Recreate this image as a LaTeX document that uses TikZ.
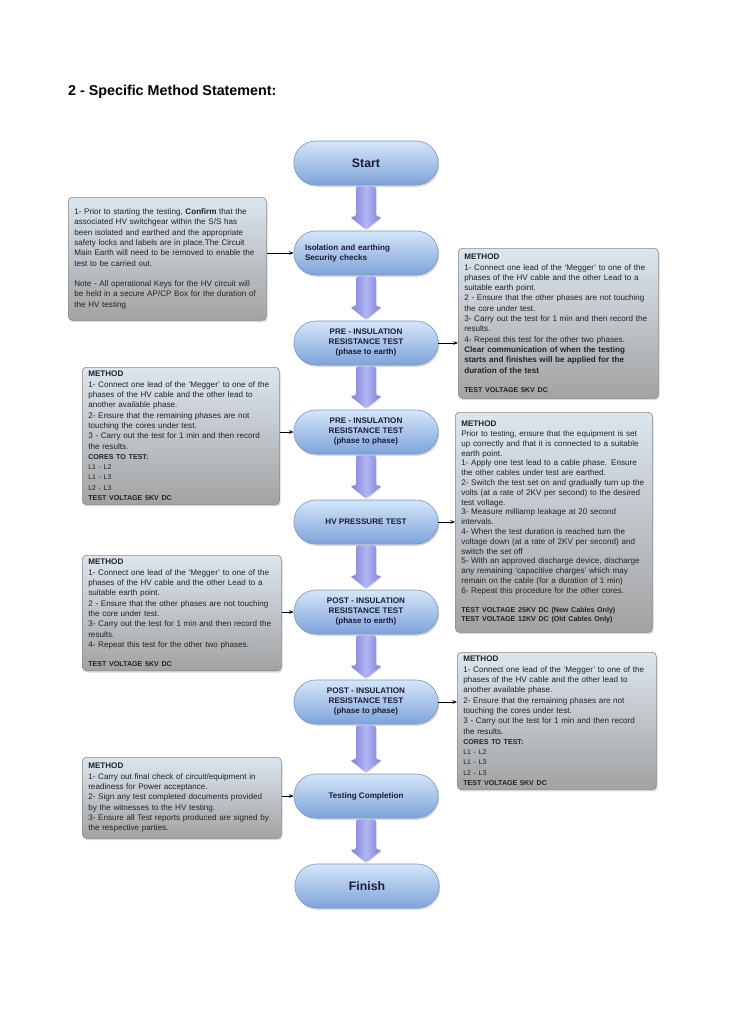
\documentclass[tikz,border=0pt]{standalone}
\usepackage{fontspec}
\setmainfont{Liberation Sans}
\usetikzlibrary{shapes.misc,shadows,calc,arrows.meta}
\definecolor{flowtop}{HTML}{D4E6FA}
\definecolor{flowbot}{HTML}{7EA3DA}
\definecolor{flowline}{HTML}{7896C0}
\definecolor{notetop}{HTML}{DCE6EF}
\definecolor{notebot}{HTML}{A2A2A2}
\definecolor{noteline}{HTML}{8A8A8A}
\definecolor{arrside}{HTML}{7A7ED6}
\definecolor{arrmid}{HTML}{B2B5F2}
\definecolor{flowtext}{HTML}{1C1C34}
\definecolor{notetext}{HTML}{222222}
\newcommand{\tvline}[1]{{\fontsize{7.1}{10}\selectfont\bfseries #1}}
\newcommand{\lline}[1]{{\fontsize{6.9}{10}\selectfont #1}}
\newcommand{\fatarrow}[2]{%
  \path let \p1=(#1.south), \p2=(#2.north) in
    [fatarr] (\x1-10,\y1-1) -- (\x1-10,\y2+14) -- (\x1-16,\y2+14) -- (\x1,\y2+1)
    -- (\x1+16,\y2+14) -- (\x1+10,\y2+14) -- (\x1+10,\y1-1) -- cycle;}
\begin{document}
\begin{tikzpicture}[x=1pt,y=1pt,
  flow/.style={shape=rounded rectangle, minimum width=151pt, minimum height=44pt,
    top color=flowtop, bottom color=flowbot, draw=flowline, line width=0.6pt,
    drop shadow={shadow xshift=1.2pt, shadow yshift=-1.8pt, opacity=0.3},
    font=\fontsize{8.1}{10}\selectfont\bfseries, text=flowtext, align=center},
  note/.style={shape=rectangle, rounded corners=4pt, anchor=north west,
    top color=notetop, bottom color=notebot, draw=noteline, line width=0.6pt,
    drop shadow={shadow xshift=1.2pt, shadow yshift=-1.8pt, opacity=0.3},
    inner xsep=6pt, inner ysep=4pt,
    font=\fontsize{8.1}{10.3}\selectfont, text=notetext, align=left},
  fatarr/.style={rounded corners=2.5pt, left color=arrside, right color=arrside, middle color=arrmid,
    drop shadow={shadow xshift=0.8pt, shadow yshift=-1pt, opacity=0.2}},
  link/.style={-{Stealth[length=4.5pt,width=3.5pt]}, line width=0.6pt, black}]
\useasboundingbox (0,0) rectangle (728,-1030);
\fill[white] (0,0) rectangle (728,-1030);

\node[anchor=west, inner sep=0pt, font=\fontsize{14.3}{16}\selectfont\bfseries, text=black] (title) at (68,-92) {2 - Specific Method Statement:};

% flow nodes
\node[flow, font=\fontsize{12.3}{14}\selectfont\bfseries] (start) at (366,-163) {Start};
\node[flow, text width=122pt, align=left] (iso) at (366,-253) {Isolation and earthing\\Security checks};
\node[flow] (pre1) at (366,-343) {PRE - INSULATION\\RESISTANCE TEST\\(phase to earth)};
\node[flow] (pre2) at (366,-432) {PRE - INSULATION\\RESISTANCE TEST\\(phase to phase)};
\node[flow] (hv) at (366,-522) {HV PRESSURE TEST};
\node[flow] (post1) at (366,-612) {POST - INSULATION\\RESISTANCE TEST\\(phase to earth)};
\node[flow] (post2) at (366,-702) {POST - INSULATION\\RESISTANCE TEST\\(phase to phase)};
\node[flow] (comp) at (366,-796) {Testing Completion};
\node[flow, font=\fontsize{12.3}{14}\selectfont\bfseries] (fin) at (367,-886) {Finish};

\fatarrow{start}{iso}
\fatarrow{iso}{pre1}
\fatarrow{pre1}{pre2}
\fatarrow{pre2}{hv}
\fatarrow{hv}{post1}
\fatarrow{post1}{post2}
\fatarrow{post2}{comp}
\fatarrow{comp}{fin}

% left notes
\node[note, minimum width=197pt, minimum height=123pt, text width=186pt] (l1) at (68,-197) {%
1- Prior to starting the testing, \textbf{Confirm} that the\\
associated HV switchgear within the S/S has\\
been isolated and earthed and the appropriate\\
safety locks and labels are in place.The Circuit\\
Main Earth will need to be removed to enable the\\
test to be carried out.\\[10pt]
Note - All operational Keys for the HV circuit will\\
be held in a secure AP/CP Box for the duration of\\
the HV testing};

\node[note, minimum width=196pt, minimum height=130pt, text width=185pt] (l2) at (82,-367) {%
\textbf{METHOD}\\
1- Connect one lead of the `Megger' to one of the\\
phases of the HV cable and the other lead to\\
another available phase.\\
2- Ensure that the remaining phases are not\\
touching the cores under test.\\
3 - Carry out the test for 1 min and then record\\
the results.\\
\tvline{CORES TO TEST:}\\
\lline{L1 - L2}\\
\lline{L1 - L3}\\
\lline{L2 - L3}\\
\tvline{TEST VOLTAGE 5KV DC}};

\node[note, minimum width=198pt, minimum height=112pt, text width=187pt] (l3) at (82,-555) {%
\textbf{METHOD}\\
1- Connect one lead of the `Megger' to one of the\\
phases of the HV cable and the other Lead to a\\
suitable earth point.\\
2 - Ensure that the other phases are not touching\\
the core under test.\\
3- Carry out the test for 1 min and then record the\\
results.\\
4- Repeat this test for the other two phases.\\[9pt]
\tvline{TEST VOLTAGE 5KV DC}};

\node[note, minimum width=198pt, minimum height=81pt, text width=187pt] (l4) at (82,-757) {%
\textbf{METHOD}\\
1- Carry out final check of circuit/equipment in\\
readiness for Power acceptance.\\
2- Sign any test completed documents provided\\
by the witnesses to the HV testing.\\
3- Ensure all Test reports produced are signed by\\
the respective parties.};

% right notes
\node[note, minimum width=199pt, minimum height=150pt, text width=188pt] (r1) at (458,-248) {%
\textbf{METHOD}\\
1- Connect one lead of the `Megger' to one of the\\
phases of the HV cable and the other Lead to a\\
suitable earth point.\\
2 - Ensure that the other phases are not touching\\
the core under test.\\
3- Carry out the test for 1 min and then record the\\
results.\\
4- Repeat this test for the other two phases.\\
\textbf{Clear communication of when the testing}\\
\textbf{starts and finishes will be applied for the}\\
\textbf{duration of the test}\\[9pt]
\tvline{TEST VOLTAGE 5KV DC}};

\node[note, minimum width=196pt, minimum height=220pt, text width=185pt, font=\fontsize{8.1}{9.8}\selectfont] (r2) at (455,-412) {%
\textbf{METHOD}\\
Prior to testing, ensure that the equipment is set\\
up correctly and that it is connected to a suitable\\
earth point.\\
1- Apply one test lead to a cable phase. Ensure\\
the other cables under test are earthed.\\
2- Switch the test set on and gradually turn up the\\
volts (at a rate of 2KV per second) to the desired\\
test voltage.\\
3- Measure milliamp leakage at 20 second\\
intervals.\\
4- When the test duration is reached turn the\\
voltage down (at a rate of 2KV per second) and\\
switch the set off\\
5- With an approved discharge device, discharge\\
any remaining `capacitive charges' which may\\
remain on the cable (for a duration of 1 min)\\
6- Repeat this procedure for the other cores.\\[9pt]
\tvline{TEST VOLTAGE 25KV DC (New Cables Only)}\\
\tvline{TEST VOLTAGE 12KV DC (Old Cables Only)}};

\node[note, minimum width=198pt, minimum height=128pt, text width=187pt] (r3) at (457,-652) {%
\textbf{METHOD}\\
1- Connect one lead of the `Megger' to one of the\\
phases of the HV cable and the other lead to\\
another available phase.\\
2- Ensure that the remaining phases are not\\
touching the cores under test.\\
3 - Carry out the test for 1 min and then record\\
the results.\\
\tvline{CORES TO TEST:}\\
\lline{L1 - L2}\\
\lline{L1 - L3}\\
\lline{L2 - L3}\\
\tvline{TEST VOLTAGE 5KV DC}};

% connectors
\draw[link] (iso.west -| l1.east) -- (iso.west);
\draw[link] (pre1.east) -- (pre1.east -| r1.west);
\draw[link] (pre2.west -| l2.east) -- (pre2.west);
\draw[link] (hv.east) -- (hv.east -| r2.west);
\draw[link] (post1.west -| l3.east) -- (post1.west);
\draw[link] (post2.east) -- (post2.east -| r3.west);
\draw[link] (comp.west -| l4.east) -- (comp.west);
\end{tikzpicture}
\end{document}
